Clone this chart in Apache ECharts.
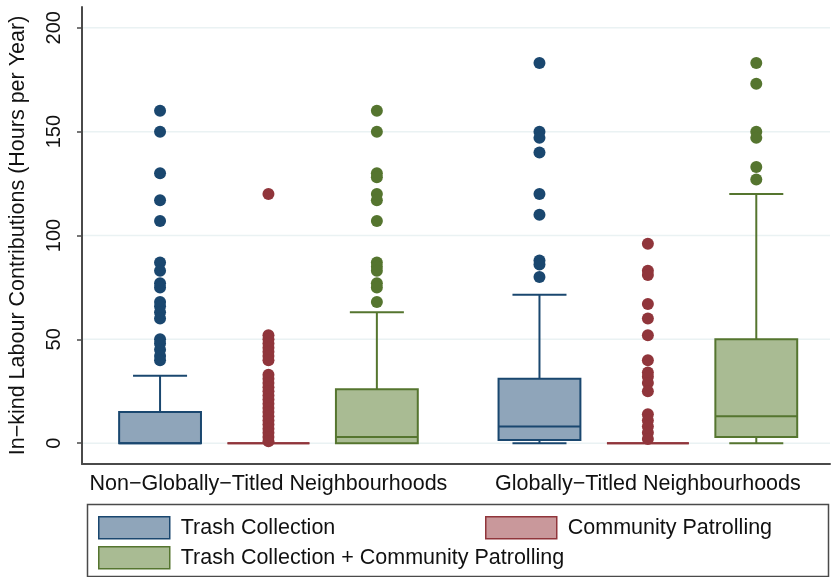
<!DOCTYPE html>
<html>
<head>
<meta charset="utf-8">
<script src="https://cdn.jsdelivr.net/npm/echarts@6/dist/echarts.min.js"></script>
<style>
  html, body { margin: 0; padding: 0; background: #fff; }
  #chart { width: 831px; height: 577px; }
</style>
</head>
<body>
<div id="chart"></div>
<script>
// Neighbourhood groups along the horizontal axis
const groups = ['Non\u2212Globally\u2212Titled Neighbourhoods', 'Globally\u2212Titled Neighbourhoods'];
// Activity types (one box per activity within each group)
const activities = ['Trash Collection', 'Community Patrolling', 'Trash Collection + Community Patrolling'];

// Box statistics per group: [lower whisker, Q1, median, Q3, upper whisker]
const trashBox  = [[0, 0, 0, 15, 32.5], [0, 1.5, 8, 31, 71.5]];
const patrolBox = [[0, 0, 0, 0, 0],     [0, 0, 0, 0, 0]];
const bothBox   = [[0, 0, 3, 26, 63],   [0, 3, 13, 50, 120]];

// Outside values per group
const trashOut = [
  [160, 150, 130, 117, 107, 87, 83, 77, 75, 68, 66, 63, 60, 50, 48, 45, 42, 40],
  [183, 150, 147, 140, 120, 110, 88, 86, 80]
];
const patrolOut = [
  [120, 52, 50, 48, 46, 44, 42, 40, 33, 31, 29, 27, 25, 23, 21, 19, 17, 15, 13, 11, 9, 7, 5, 3, 1],
  [96, 83, 81, 67, 60, 52, 40, 34, 32, 29, 25, 14, 11, 8, 5, 2]
];
const bothOut = [
  [160, 150, 130, 128, 120, 117, 107, 87, 85, 83, 77, 75, 68],
  [183, 173, 150, 147, 133, 127]
];

// Value-axis tick labels
const yTicks = [0, 50, 100, 150, 200];

const boxes = [trashBox, patrolBox, bothBox];
const outs = [trashOut, patrolOut, bothOut];
const darks = ['#1a476f', '#90353b', '#55752f'];
const fills = ['#8fa5ba', '#c9989b', '#a9bb93'];

// slot position on the hidden horizontal value axis
const pos = (g, a) => g * 3.5 + a + 1;
const groupCenter = g => g * 3.5 + 2;

const FONT = '"Liberation Sans", Arial, Helvetica, sans-serif';
const TEXT = '#111';

function renderBox(params, api) {
  const x = api.value(0);
  const lo = api.value(1), q1 = api.value(2), med = api.value(3), q3 = api.value(4), hi = api.value(5);
  const col = darks[params.seriesIndex - 1];
  const fill = fills[params.seriesIndex - 1];
  const px = api.coord([x, lo])[0];
  const yLo = api.coord([x, lo])[1];
  const yQ1 = api.coord([x, q1])[1];
  const yMed = api.coord([x, med])[1];
  const yQ3 = api.coord([x, q3])[1];
  const yHi = api.coord([x, hi])[1];
  const bw = api.size([1, 0])[0] * 0.755;
  const cw = bw * 0.66;
  const lineStyle = { stroke: col, lineWidth: 2 };
  const children = [];
  if (hi > q3) {
    children.push({ type: 'line', shape: { x1: px, y1: yQ3, x2: px, y2: yHi }, style: lineStyle });
    children.push({ type: 'line', shape: { x1: px - cw / 2, y1: yHi, x2: px + cw / 2, y2: yHi }, style: lineStyle });
  }
  if (lo < q1) {
    children.push({ type: 'line', shape: { x1: px, y1: yQ1, x2: px, y2: yLo }, style: lineStyle });
    children.push({ type: 'line', shape: { x1: px - cw / 2, y1: yLo, x2: px + cw / 2, y2: yLo }, style: lineStyle });
  }
  children.push({
    type: 'rect',
    shape: { x: px - bw / 2, y: yQ3, width: bw, height: yQ1 - yQ3 },
    style: { fill: fill, stroke: col, lineWidth: 2 }
  });
  children.push({ type: 'line', shape: { x1: px - bw / 2, y1: yMed, x2: px + bw / 2, y2: yMed }, style: lineStyle });
  return { type: 'group', children: children };
}

function renderGrid(params, api) {
  const cs = params.coordSys;
  const y = api.coord([1, api.value(0)])[1];
  return {
    type: 'line',
    shape: { x1: cs.x + 1, y1: y, x2: cs.x + cs.width, y2: y },
    style: { stroke: '#eaf2f3', lineWidth: 1.5 }
  };
}

const series = [{
  type: 'custom',
  name: 'gridlines',
  renderItem: renderGrid,
  data: yTicks.map(v => [v]),
  encode: { y: 0 },
  silent: true,
  z: 1
}];

activities.forEach((name, a) => {
  series.push({
    type: 'custom',
    name: name,
    renderItem: renderBox,
    itemStyle: { color: fills[a], borderColor: darks[a] },
    data: boxes[a].map((b, g) => [pos(g, a)].concat(b)),
    encode: { x: 0, y: [1, 2, 3, 4, 5] },
    z: 3
  });
});
activities.forEach((name, a) => {
  const pts = [];
  outs[a].forEach((vals, g) => vals.forEach(v => pts.push([pos(g, a), v])));
  series.push({
    type: 'scatter',
    name: name + ' outside values',
    data: pts,
    symbol: 'circle',
    symbolSize: 12,
    itemStyle: { color: darks[a], opacity: 1 },
    z: 4,
    silent: true
  });
});

const legendItem = a => ({
  name: activities[a],
  icon: 'rect',
  itemStyle: { color: fills[a], borderColor: darks[a], borderWidth: 1.5 }
});
const legendBase = {
  orient: 'horizontal',
  itemWidth: 71,
  itemHeight: 22,
  selectedMode: false,
  padding: 0,
  textStyle: { fontFamily: FONT, fontSize: 21.5, color: TEXT, padding: [0, 0, 0, 6] }
};

const chart = echarts.init(document.getElementById('chart'), null, { renderer: 'canvas' });
chart.setOption({
  animation: false,
  backgroundColor: '#ffffff',
  grid: { left: 82, right: 1, top: 7, bottom: 113, containLabel: false, outerBoundsMode: 'none' },
  xAxis: {
    type: 'value',
    min: 0.28,
    max: 7.18,
    splitLine: { show: false },
    axisTick: { show: false },
    axisLine: { show: true, onZero: false, lineStyle: { color: '#4a4a4a', width: 2 } },
    axisLabel: {
      customValues: groups.map((_, g) => groupCenter(g)),
      formatter: v => {
        const g = groups.findIndex((_, i) => Math.abs(groupCenter(i) - v) < 1e-6);
        return g >= 0 ? groups[g] : '';
      },
      fontFamily: FONT,
      fontSize: 21.5,
      color: TEXT,
      margin: 9
    }
  },
  yAxis: {
    type: 'value',
    min: -10,
    max: 210,
    name: 'In\u2212kind Labour Contributions (Hours per Year)',
    nameLocation: 'middle',
    nameGap: 53,
    nameTextStyle: { fontFamily: FONT, fontSize: 21.5, color: TEXT },
    splitLine: { show: false },
    axisLine: { show: true, onZero: false, lineStyle: { color: '#4a4a4a', width: 2 } },
    axisTick: { show: true, customValues: yTicks, length: 5, lineStyle: { color: '#4a4a4a', width: 1.5 } },
    axisLabel: {
      customValues: yTicks,
      rotate: 90,
      fontFamily: FONT,
      fontSize: 20,
      color: TEXT,
      margin: 18
    }
  },
  legend: [
    Object.assign({}, legendBase, { left: 98, top: 516, data: [legendItem(0)] }),
    Object.assign({}, legendBase, { left: 485, top: 516, data: [legendItem(1)] }),
    Object.assign({}, legendBase, { left: 98, top: 546, data: [legendItem(2)] })
  ],
  graphic: [{
    type: 'rect',
    shape: { x: 87.5, y: 504.5, width: 741, height: 72 },
    style: { fill: 'none', stroke: '#4a4a4a', lineWidth: 1.5 },
    silent: true
  }],
  series: series
});
</script>
</body>
</html>
